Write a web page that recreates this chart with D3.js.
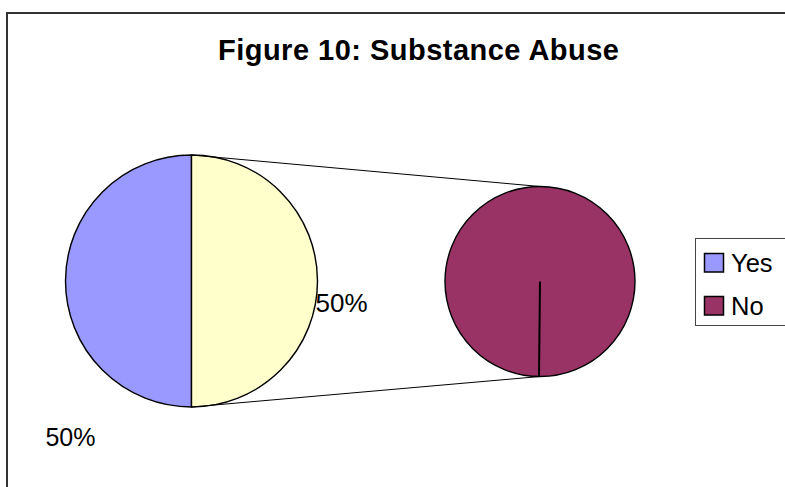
<!DOCTYPE html>
<html><head><meta charset="utf-8">
<script src="https://cdn.jsdelivr.net/npm/d3@7"></script>
<style>html,body{margin:0;padding:0;background:#fff;}svg{display:block;}</style>
</head><body>
<script>
// ---- data ----
const categories = ["Yes", "No"];
const values = [50, 50];           // percent
const colors = ["#9999FF", "#993366"];
const otherColor = "#FFFFCC";
const title = "Figure 10: Substance Abuse";
// primary pie: Yes + "Other" (which contains No); secondary pie: No
const primaryItems = [{name: "Yes", value: values[0], color: colors[0]}, {name: "Other", value: values[1], color: otherColor}];
const secondaryItems = [{name: "No", value: values[1], color: colors[1]}];

const W = 785, H = 487;
const svg = d3.select("body").append("svg").attr("width", W).attr("height", H);
const font = "Liberation Sans, Arial, sans-serif";

// chart border
svg.append("rect").attr("x", 7).attr("y", 13).attr("width", W + 20).attr("height", H + 20)
  .attr("fill", "none").attr("stroke", "#333").attr("stroke-width", 2);

// title
svg.append("text").attr("x", 418.5).attr("y", 59.5).attr("text-anchor", "middle")
  .attr("font-family", font).attr("font-weight", "bold").attr("font-size", 29)
  .attr("textLength", 401).attr("lengthAdjust", "spacing")
  .text(title);

// geometry
const c1 = {x: 191.5, y: 281, r: 126};
const c2 = {x: 540, y: 281.5, r: 95};

const pie1 = d3.pie().sort(null).value(d => d.value).startAngle(Math.PI).endAngle(3 * Math.PI);
const arcs1 = pie1(primaryItems);
const arc1 = d3.arc().innerRadius(0).outerRadius(c1.r);

const g1 = svg.append("g").attr("transform", `translate(${c1.x},${c1.y})`);
g1.selectAll("path").data(arcs1).join("path")
  .attr("d", arc1).attr("fill", d => d.data.color)
  .attr("stroke", "#000").attr("stroke-width", 1.4).attr("stroke-linejoin", "round");

const pie2 = d3.pie().sort(null).value(d => d.value).startAngle(Math.PI).endAngle(3 * Math.PI);
const arcs2 = pie2(secondaryItems);
const arc2 = d3.arc().innerRadius(0).outerRadius(c2.r);
const g2 = svg.append("g").attr("transform", `translate(${c2.x},${c2.y})`);
g2.selectAll("path").data(arcs2).join("path")
  .attr("d", arc2).attr("fill", d => d.data.color)
  .attr("stroke", "#000").attr("stroke-width", 1.4);
// slice boundary line in the single-slice pie
arcs2.forEach(a => {
  g2.append("line").attr("x1", 0).attr("y1", 0)
    .attr("x2", c2.r * Math.sin(a.startAngle) - 1).attr("y2", -c2.r * Math.cos(a.startAngle))
    .attr("stroke", "#000").attr("stroke-width", 2);
});

// connector lines from "Other" slice edges to the secondary pie
const other = arcs1[1];
const pt = (c, ang) => [c.x + c.r * Math.sin(ang), c.y - c.r * Math.cos(ang)];
[[other.startAngle, 0], [other.endAngle, Math.PI]].forEach(([a1, a2]) => {
  const p1 = pt(c1, a1), p2 = pt(c2, a2);
  svg.append("line").attr("x1", p1[0]).attr("y1", p1[1]).attr("x2", p2[0]).attr("y2", p2[1])
    .attr("stroke", "#000").attr("stroke-width", 1);
});

// data labels
const fmt = v => d3.format(".0%")(v / 100);
const otherMid = (other.startAngle + other.endAngle) / 2;
const po = pt(c1, otherMid);
svg.append("text").attr("x", po[0] - 2).attr("y", po[1] + 31)
  .attr("font-family", font).attr("font-size", 26).text(fmt(other.data.value));
svg.append("text").attr("x", c1.x - 121).attr("y", c1.y + 165).attr("text-anchor", "middle")
  .attr("font-family", font).attr("font-size", 25).text(fmt(arcs1[0].data.value));

// legend
const lg = svg.append("g");
lg.append("rect").attr("x", 695.5).attr("y", 238.5).attr("width", 120).attr("height", 87)
  .attr("fill", "#fff").attr("stroke", "#444").attr("stroke-width", 1);
const ly = d3.scalePoint().domain(categories).range([253.5, 296.5]);
categories.forEach((c, i) => {
  lg.append("rect").attr("x", 704.5).attr("y", ly(c)).attr("width", 19).attr("height", 18.5)
    .attr("fill", colors[i]).attr("stroke", "#000").attr("stroke-width", 1.5);
  lg.append("text").attr("x", 731).attr("y", ly(c) + 18).attr("font-family", font).attr("font-size", 25.5)
    .text(c);
});
</script>
</body></html>
